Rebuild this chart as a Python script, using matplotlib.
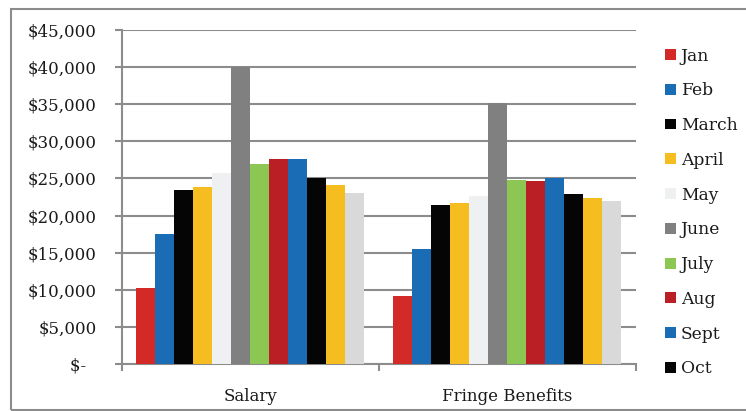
import numpy as np
import matplotlib.pyplot as plt
from matplotlib.patches import Rectangle
from matplotlib.ticker import FuncFormatter


categories = ["Salary", "Fringe Benefits"]
months = ["Jan", "Feb", "March", "April", "May", "June",
          "July", "Aug", "Sept", "Oct", "Nov", "Dec"]

salary = [10300, 17500, 23400, 23900, 25700, 40000,
          26950, 27600, 27600, 25000, 24100, 23100]
fringe = [9200, 15450, 21450, 21700, 22600, 35200,
          24800, 24650, 25000, 22900, 22400, 21900]

colors = ["#d42a27", "#1a6db5", "#050505", "#f5bd1f", "#eef0f2", "#808080",
          "#8cc653", "#b91f24", "#1a6db5", "#050505", "#f5bd1f", "#d9d9d9"]

yticks = [0, 5000, 10000, 15000, 20000, 25000, 30000, 35000, 40000, 45000]

plt.rcParams["font.family"] = ["DejaVu Serif"]
grid_col = "#8c8c8c"

fig = plt.figure(figsize=(7.46, 4.11), dpi=100)
ax = fig.add_axes([0.1635, 0.1144, 0.689, 0.8126])

# outer chart border
fig.patches.append(Rectangle((11 / 746, 0.003), 1.0, 1 - 9 / 411 - 0.003,
                             transform=fig.transFigure, fill=False,
                             edgecolor=grid_col, linewidth=1.5, zorder=0))

x = np.arange(len(categories))
n = len(months)
bw = 0.887 / n
handles = []
for i in range(n):
    vals = [salary[i], fringe[i]]
    b = ax.bar(x - 0.887 / 2 + bw * (i + 0.5), vals, width=bw,
               color=colors[i], label=months[i], zorder=3)
    handles.append(b)

ax.set_xlim(-0.5, 1.5)
ax.set_ylim(0, 45000)
ax.set_yticks(yticks)


def money(v, pos):
    if v == 0:
        return "$-  "
    return "${:,.0f}".format(v)


ax.yaxis.set_major_formatter(FuncFormatter(money))
ax.yaxis.grid(True, color=grid_col, linewidth=1.5, zorder=0)
ax.set_axisbelow(True)

ax.set_xticks(x)
ax.set_xticklabels(categories)
ax.set_xticks([-0.5, 0.5, 1.5], minor=True)
ax.tick_params(axis="x", which="major", length=0, pad=17, labelsize=12,
               labelcolor="#1a1a1a")
ax.tick_params(axis="x", which="minor", length=5, width=1.5, color=grid_col,
               direction="out")
ax.tick_params(axis="y", length=5, width=1.5, color=grid_col, pad=13,
               labelsize=12, labelcolor="#1a1a1a")

for s in ["top", "right"]:
    ax.spines[s].set_visible(False)
for s in ["left", "bottom"]:
    ax.spines[s].set_color(grid_col)
    ax.spines[s].set_linewidth(1.5)

leg = ax.legend(handles[:10], months[:10], loc="upper left",
                bbox_to_anchor=(1.044, 0.968), frameon=False, fontsize=12.3,
                handlelength=0.6, handleheight=0.6, handletextpad=0.3,
                labelspacing=1.04, borderaxespad=0)
for t in leg.get_texts():
    t.set_color("#1a1a1a")

fig.savefig("out.png", dpi=100)
